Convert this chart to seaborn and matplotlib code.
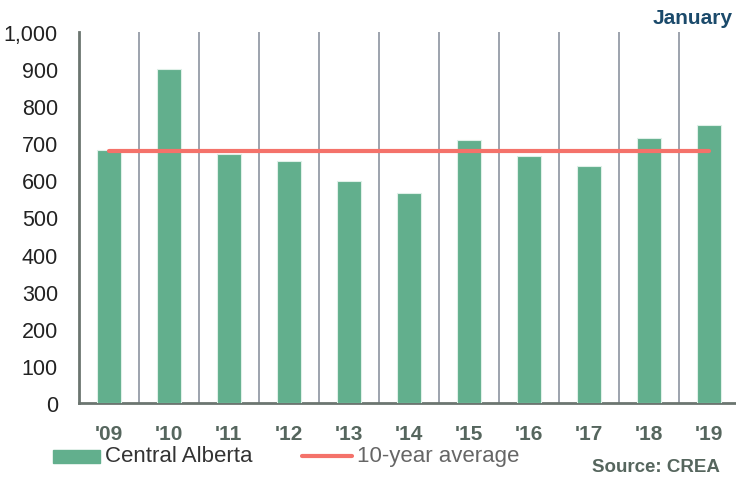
import numpy as np
import pandas as pd
import matplotlib
matplotlib.use("Agg")
import matplotlib.pyplot as plt
import seaborn as sns

# data
years = ["'09", "'10", "'11", "'12", "'13", "'14", "'15", "'16", "'17", "'18", "'19"]
sales = [682, 900, 671, 652, 598, 566, 709, 666, 639, 714, 749]
ten_year_avg = 680

df = pd.DataFrame({"year": years, "sales": sales})

sns.set_style("white")
plt.rcParams["font.family"] = ["Liberation Sans", "DejaVu Sans"]

fig = plt.figure(figsize=(7.36, 4.85), dpi=100)
ax = fig.add_axes([0.107, 0.167, 0.897, 0.765])

sns.barplot(data=df, x="year", y="sales", color="#62AF8D", width=0.4,
            saturation=1, edgecolor="#dff0e8", linewidth=0.8, ax=ax, zorder=3)
ax.plot([0, len(years) - 1], [ten_year_avg] * 2, color="#F4726A", lw=3, zorder=4)

ax.set_xlim(-0.5, len(years) - 0.5)
ax.set_ylim(0, 1000)
ax.set_yticks(range(0, 1001, 100))
ax.set_yticklabels([f"{v:,}" for v in range(0, 1001, 100)], fontsize=15.5, color="#222222")
ax.set_xticks(range(len(years)))
ax.set_xticklabels(years, fontsize=15, fontweight="bold", color="#56665E")
ax.set_xticks(np.arange(0.5, len(years) - 0.5, 1), minor=True)
ax.grid(True, which="minor", axis="x", color="#8C93A0", lw=1.2, zorder=0)
ax.grid(False, which="major")
ax.tick_params(axis="both", which="both", length=0)
ax.tick_params(axis="y", pad=15)
ax.tick_params(axis="x", pad=15)
ax.set_xlabel("")
ax.set_ylabel("")

for side in ["top", "right"]:
    ax.spines[side].set_visible(False)
ax.spines["left"].set_color("#6B7570")
ax.spines["left"].set_linewidth(2)
ax.spines["bottom"].set_color("#6B7570")
ax.spines["bottom"].set_linewidth(2)

# legend
fig.patches.append(plt.Rectangle((53 / 736, 1 - 464 / 485), 47 / 736, 13 / 485,
                                 transform=fig.transFigure, color="#62AF8D"))
fig.text(105 / 736, 1 - 457 / 485, "Central Alberta", fontsize=16, color="#333333", va="center")
fig.lines.append(plt.Line2D([302 / 736, 352 / 736], [1 - 457 / 485] * 2,
                            transform=fig.transFigure, color="#F4726A", lw=3))
fig.text(357 / 736, 1 - 457 / 485, "10-year average", fontsize=16, color="#666666", va="center")

fig.text(733 / 736, 1 - 18 / 485, "January", fontsize=15, fontweight="bold",
         color="#1B4A6B", ha="right", va="center")
fig.text(720 / 736, 1 - 468 / 485, "Source: CREA", fontsize=13.5, fontweight="bold",
         color="#56665E", ha="right", va="center")

fig.savefig("out.png", dpi=100)
